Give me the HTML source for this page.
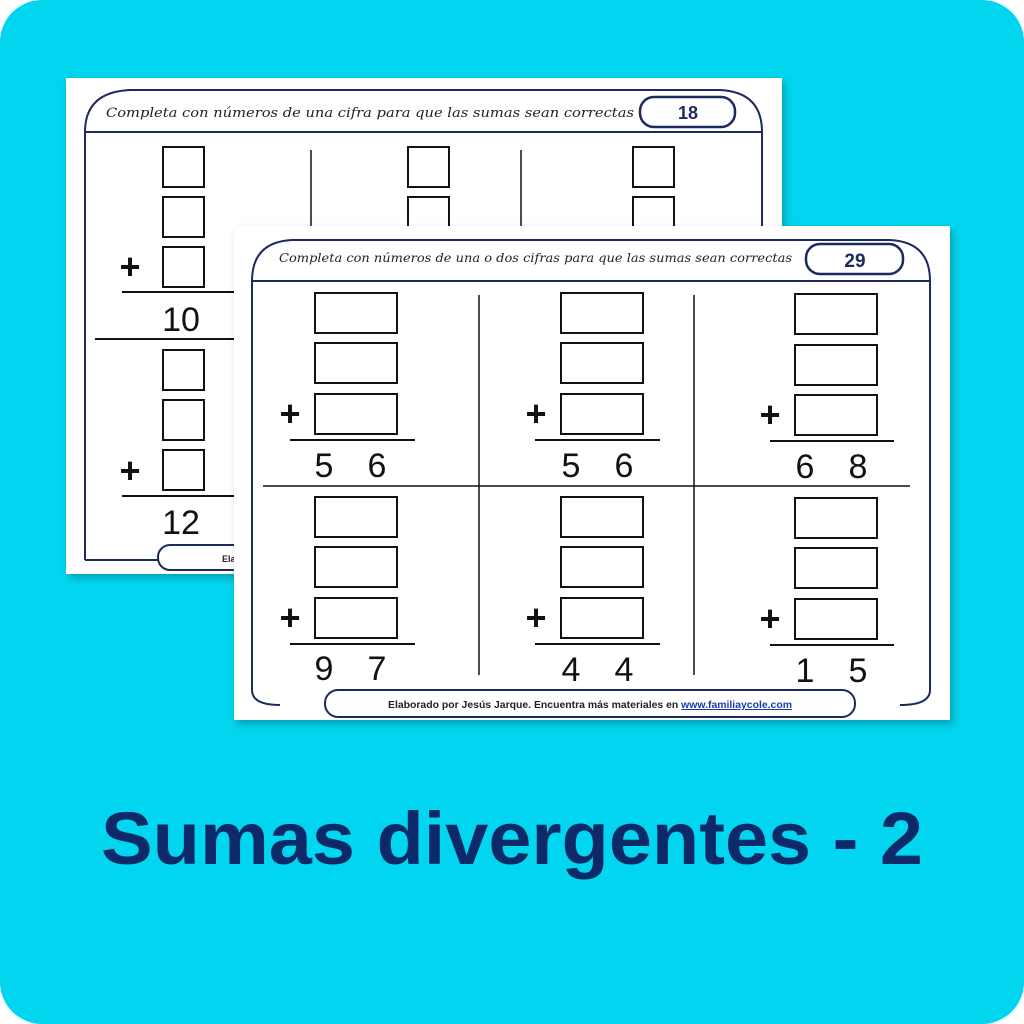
<!DOCTYPE html>
<html><head><meta charset="utf-8"><style>
html,body{margin:0;padding:0;background:#fff;width:1024px;height:1024px;overflow:hidden}
svg{display:block}
.cur{font-family:"DejaVu Serif","Liberation Serif",serif;font-style:italic}
</style></head><body>
<svg width="1024" height="1024" viewBox="0 0 1024 1024" xmlns="http://www.w3.org/2000/svg">
<defs>
<filter id="sh" x="-10%" y="-10%" width="120%" height="120%"><feDropShadow dx="3" dy="4" stdDeviation="4" flood-color="#000" flood-opacity="0.25"/></filter>
</defs>
<rect x="0" y="0" width="1024" height="1024" rx="42" fill="#02d5ef"/>

<!-- back sheet -->
<g>
<rect x="66" y="78" width="716" height="496" fill="#fff" filter="url(#sh)"/>
<path d="M85 560 V132 Q85 92 130 90 H720 Q762 92 762 132 V560" fill="none" stroke="#1c2a5e" stroke-width="2"/>
<line x1="85" y1="132" x2="762" y2="132" stroke="#1c2a5e" stroke-width="2"/>
<line x1="85" y1="560" x2="762" y2="560" stroke="#1c2a5e" stroke-width="2"/>
<text x="106" y="117" class="cur" font-size="13" fill="#222" textLength="528" lengthAdjust="spacingAndGlyphs">Completa con números de una cifra para que las sumas sean correctas</text>
<rect x="640" y="97" width="95" height="30" rx="14" fill="#fff" stroke="#1c2a5e" stroke-width="2.5"/>
<text x="688" y="119" font-family="Liberation Sans,sans-serif" font-weight="bold" font-size="18" fill="#1c2a5e" text-anchor="middle">18</text>
<g fill="none" stroke="#111" stroke-width="2">
<rect x="163" y="147" width="41" height="40"/><rect x="163" y="197" width="41" height="40"/><rect x="163" y="247" width="41" height="40"/>
<rect x="163" y="350" width="41" height="40"/><rect x="163" y="400" width="41" height="40"/><rect x="163" y="450" width="41" height="40"/>
<rect x="408" y="147" width="41" height="40"/><rect x="408" y="197" width="41" height="40"/>
<rect x="633" y="147" width="41" height="40"/><rect x="633" y="197" width="41" height="40"/>
<line x1="122" y1="292" x2="240" y2="292"/><line x1="122" y1="496" x2="240" y2="496"/>
<line x1="95" y1="339" x2="240" y2="339"/>
<line x1="311" y1="150" x2="311" y2="230" stroke-width="1.5"/><line x1="521" y1="150" x2="521" y2="230" stroke-width="1.5"/>
</g>
<text x="130" y="279" font-family="Liberation Sans,sans-serif" font-weight="bold" font-size="36" fill="#111" text-anchor="middle">+</text>
<text x="130" y="483" font-family="Liberation Sans,sans-serif" font-weight="bold" font-size="36" fill="#111" text-anchor="middle">+</text>
<text x="181" y="331" font-family="Liberation Sans,sans-serif" font-size="34" fill="#111" text-anchor="middle">10</text>
<text x="181" y="534" font-family="Liberation Sans,sans-serif" font-size="34" fill="#111" text-anchor="middle">12</text>
<rect x="158" y="545" width="400" height="25" rx="12" fill="#fff" stroke="#1c2a5e" stroke-width="2"/>
<text x="222" y="562" font-family="Liberation Sans,sans-serif" font-weight="bold" font-size="9" fill="#222">Ela</text>
</g>

<!-- front sheet -->
<g>
<rect x="234" y="226" width="716" height="494" fill="#fff" filter="url(#sh)"/>
<path d="M252 690 V281 Q252 242 292 240 H890 Q930 242 930 281 V690 Q930 705 900 705 M252 690 Q252 705 280 705" fill="none" stroke="#1c2a5e" stroke-width="2"/>
<line x1="252" y1="281" x2="930" y2="281" stroke="#1c2a5e" stroke-width="2"/>
<text x="279" y="262" class="cur" font-size="12" fill="#222" textLength="513" lengthAdjust="spacingAndGlyphs">Completa con números de una o dos cifras para que las sumas sean correctas</text>
<rect x="806" y="244" width="97" height="30" rx="14" fill="#fff" stroke="#1c2a5e" stroke-width="2.5"/>
<text x="855" y="267" font-family="Liberation Sans,sans-serif" font-weight="bold" font-size="19" fill="#1c2a5e" text-anchor="middle">29</text>
<g fill="none" stroke="#111" stroke-width="2">
<rect x="315" y="293" width="82" height="40"/><rect x="315" y="343" width="82" height="40"/><rect x="315" y="394" width="82" height="40"/>
<rect x="315" y="497" width="82" height="40"/><rect x="315" y="547" width="82" height="40"/><rect x="315" y="598" width="82" height="40"/>
<rect x="561" y="293" width="82" height="40"/><rect x="561" y="343" width="82" height="40"/><rect x="561" y="394" width="82" height="40"/>
<rect x="561" y="497" width="82" height="40"/><rect x="561" y="547" width="82" height="40"/><rect x="561" y="598" width="82" height="40"/>
<rect x="795" y="294" width="82" height="40"/><rect x="795" y="345" width="82" height="40"/><rect x="795" y="395" width="82" height="40"/>
<rect x="795" y="498" width="82" height="40"/><rect x="795" y="548" width="82" height="40"/><rect x="795" y="599" width="82" height="40"/>
<line x1="290" y1="440" x2="415" y2="440"/><line x1="535" y1="440" x2="660" y2="440"/><line x1="770" y1="441" x2="894" y2="441"/>
<line x1="290" y1="644" x2="415" y2="644"/><line x1="535" y1="644" x2="660" y2="644"/><line x1="770" y1="645" x2="894" y2="645"/>
<line x1="263" y1="486" x2="910" y2="486" stroke-width="1.5"/>
<line x1="479" y1="295" x2="479" y2="675" stroke-width="1.5"/><line x1="694" y1="295" x2="694" y2="675" stroke-width="1.5"/>
</g>
<g font-family="Liberation Sans,sans-serif" font-weight="bold" font-size="36" fill="#111" text-anchor="middle">
<text x="290" y="426">+</text><text x="536" y="426">+</text><text x="770" y="427">+</text>
<text x="290" y="630">+</text><text x="536" y="630">+</text><text x="770" y="631">+</text>
</g>
<g font-family="Liberation Sans,sans-serif" font-size="34" fill="#111" text-anchor="middle">
<text x="324" y="477">5</text><text x="377" y="477">6</text>
<text x="571" y="477">5</text><text x="624" y="477">6</text>
<text x="805" y="478">6</text><text x="858" y="478">8</text>
<text x="324" y="680">9</text><text x="377" y="680">7</text>
<text x="571" y="681">4</text><text x="624" y="681">4</text>
<text x="805" y="682">1</text><text x="858" y="682">5</text>
</g>
<rect x="325" y="690" width="530" height="27" rx="13" fill="#fff" stroke="#1c2a5e" stroke-width="2"/>
<text x="388" y="708" font-family="Liberation Sans,sans-serif" font-weight="bold" font-size="10" fill="#222" textLength="404" lengthAdjust="spacingAndGlyphs">Elaborado por Jesús Jarque. Encuentra más materiales en <tspan fill="#1a3bb0" text-decoration="underline">www.familiaycole.com</tspan></text>
</g>

<text x="512" y="864" font-family="Liberation Sans,sans-serif" font-weight="bold" font-size="74" fill="#0c2a6a" text-anchor="middle" textLength="822" lengthAdjust="spacingAndGlyphs">Sumas divergentes - 2</text>
</svg>
</body></html>
